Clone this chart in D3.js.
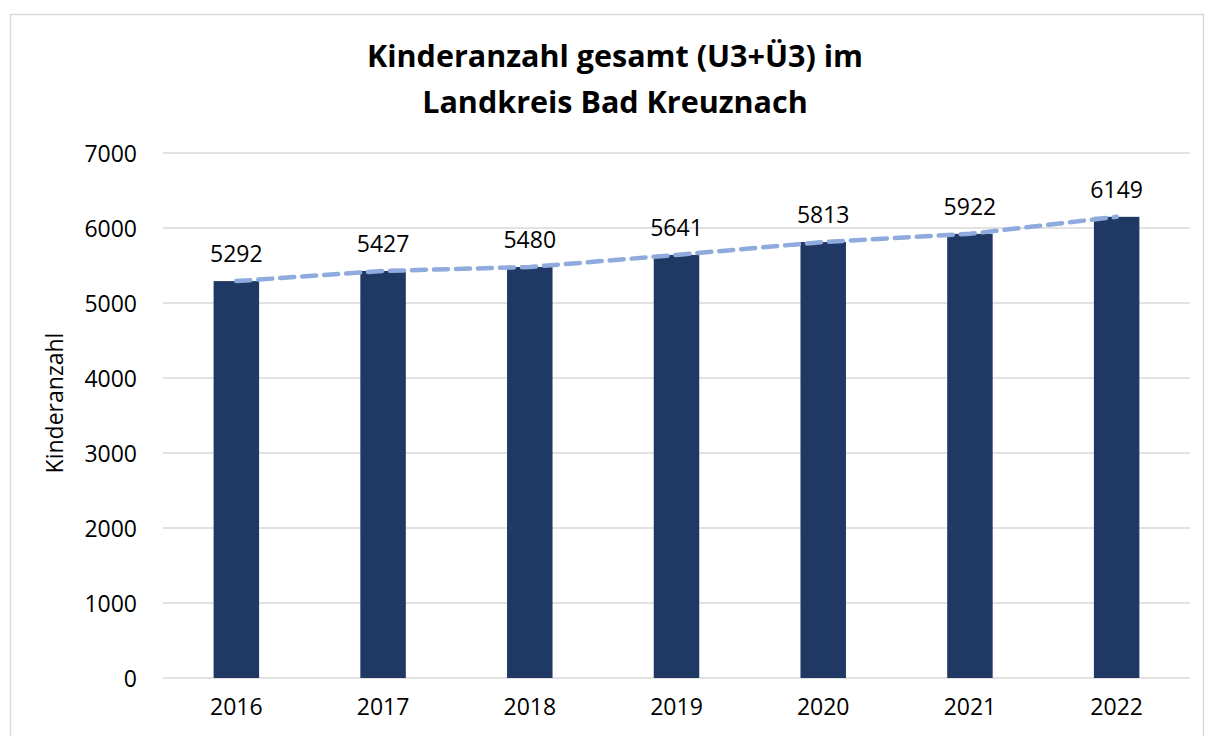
<!DOCTYPE html>
<html>
<head>
<meta charset="utf-8">
<script src="https://cdn.jsdelivr.net/npm/d3@7"></script>
<style>
  body { margin: 0; background: #fff; }
  text { font-family: "Open Sans", "Noto Sans", sans-serif; fill: #000; }
</style>
</head>
<body>
<div class="chart"></div>
<script>
// data
var years = ["2016", "2017", "2018", "2019", "2020", "2021", "2022"];
var kinder = [5292, 5427, 5480, 5641, 5813, 5922, 6149];
var yTicks = [0, 1000, 2000, 3000, 4000, 5000, 6000, 7000];
var titleLines = ["Kinderanzahl gesamt (U3+Ü3) im", "Landkreis Bad Kreuznach"];

var svgWidth = 1206;
var svgHeight = 736;
var margin = { top: 153, right: 16, bottom: 58, left: 163 };
var width = 1190 - margin.left;
var height = 678 - margin.top;

var svg = d3.select(".chart")
  .append("svg")
  .attr("width", svgWidth)
  .attr("height", svgHeight);

// outer chart border
svg.append("rect")
  .attr("x", 10.5).attr("y", 14.5)
  .attr("width", 1193).attr("height", 740)
  .attr("fill", "none")
  .attr("stroke", "#d9d9d9")
  .attr("stroke-width", 1.5);

var chart = svg.append("g")
  .attr("transform", "translate(" + margin.left + "," + margin.top + ")");

var xScale = d3.scaleBand()
  .domain(years)
  .range([0, width])
  .paddingInner(0.69)
  .paddingOuter(0.345);

var yScale = d3.scaleLinear()
  .domain([0, 7000])
  .range([height, 0]);

// gridlines
chart.append("g")
  .selectAll("line")
  .data(yTicks)
  .enter()
  .append("line")
  .attr("x1", 0).attr("x2", width)
  .attr("y1", function(d) { return yScale(d); })
  .attr("y2", function(d) { return yScale(d); })
  .attr("stroke", "#d9d9d9")
  .attr("stroke-width", 1.5);

// y axis labels
var leftAxis = d3.axisLeft(yScale)
  .tickValues(yTicks)
  .tickFormat(d3.format("d"))
  .tickSize(0)
  .tickPadding(26);
var yAxis = chart.append("g").attr("class", "y-axis").call(leftAxis);
yAxis.select(".domain").remove();
yAxis.selectAll("text")
  .style("font-size", "23px")
  .attr("dy", "0.35em");

// x axis labels
var bottomAxis = d3.axisBottom(xScale).tickSize(0).tickPadding(21);
var xAxis = chart.append("g")
  .attr("class", "x-axis")
  .attr("transform", "translate(0," + height + ")")
  .call(bottomAxis);
xAxis.select(".domain").remove();
xAxis.selectAll("text").style("font-size", "23px");

// bars
chart.selectAll(".bar")
  .data(kinder)
  .enter()
  .append("rect")
  .attr("class", "bar")
  .attr("x", function(d, i) { return xScale(years[i]); })
  .attr("y", function(d) { return yScale(d); })
  .attr("width", xScale.bandwidth())
  .attr("height", function(d) { return height - yScale(d); })
  .attr("fill", "#203864");

// dashed line through the values
var line = d3.line()
  .x(function(d, i) { return xScale(years[i]) + xScale.bandwidth() / 2; })
  .y(function(d) { return yScale(d); });

chart.append("path")
  .datum(kinder)
  .attr("d", line)
  .attr("fill", "none")
  .attr("stroke", "#8faadc")
  .attr("stroke-width", 4.5)
  .attr("stroke-linecap", "round")
  .attr("stroke-dasharray", "14,8");

// value labels
chart.selectAll(".val")
  .data(kinder)
  .enter()
  .append("text")
  .attr("class", "val")
  .attr("x", function(d, i) { return xScale(years[i]) + xScale.bandwidth() / 2; })
  .attr("y", function(d) { return yScale(d) - 19; })
  .attr("text-anchor", "middle")
  .style("font-size", "23px")
  .text(function(d) { return d; });

// title
svg.append("g")
  .selectAll("text")
  .data(titleLines)
  .enter()
  .append("text")
  .attr("x", 615)
  .attr("y", function(d, i) { return 67 + i * 46; })
  .attr("text-anchor", "middle")
  .style("font-size", "30.5px")
  .style("font-weight", "bold")
  .text(function(d) { return d; });

// y axis title
svg.append("text")
  .attr("transform", "translate(63," + 403 + ") rotate(-90)")
  .attr("text-anchor", "middle")
  .style("font-size", "23px")
  .text("Kinderanzahl");
</script>
</body>
</html>
